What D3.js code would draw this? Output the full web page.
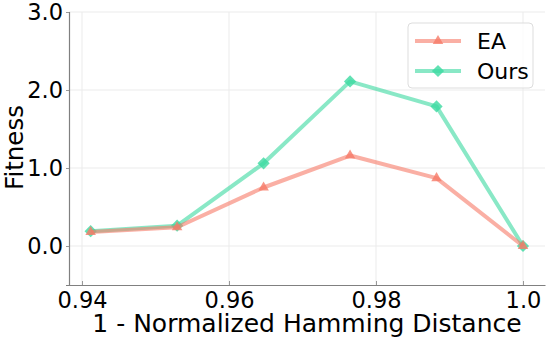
<!DOCTYPE html>
<html>
<head>
<meta charset="utf-8">
<script src="https://cdn.jsdelivr.net/npm/d3@7"></script>
<style>
  body { margin: 0; background: #fff; }
  text { font-family: "DejaVu Sans", sans-serif; fill: #000; }
</style>
</head>
<body>
<script>
const width = 548;
const height = 341;

// data
const xValues = [80 / 85, 81 / 85, 82 / 85, 83 / 85, 84 / 85, 1.0];
const eaValues = [0.18, 0.24, 0.75, 1.16, 0.87, 0.0];
const oursValues = [0.19, 0.26, 1.06, 2.11, 1.79, 0.0];
const xTicks = [0.94, 0.96, 0.98, 1.0];
const yTicks = [0, 1, 2, 3];
const seriesNames = ["EA", "Ours"];

const series = [
  { name: seriesNames[0], values: eaValues, color: "#f67a68", symbol: d3.symbolTriangle, size: 48, rot: 0 },
  { name: seriesNames[1], values: oursValues, color: "#3bd9a0", symbol: d3.symbolSquare, size: 75, rot: 45 }
];

const svg = d3.select("body").append("svg")
  .attr("width", width)
  .attr("height", height);

const margin = { left: 69, right: 3, top: 12, bottom: 56 };

const x = d3.scaleLinear()
  .domain([0.94 - 13 / 7350, 1.0 + 22 / 7350])
  .range([margin.left, width - margin.right]);

const y = d3.scaleLinear()
  .domain([-0.5, 3.0])
  .range([height - margin.bottom, margin.top]);

// grid
const grid = svg.append("g");
grid.selectAll(".gx")
  .data(xTicks)
  .join("line")
  .attr("x1", (d) => x(d)).attr("x2", (d) => x(d))
  .attr("y1", y.range()[0]).attr("y2", y.range()[1])
  .attr("stroke", "#ebebeb").attr("stroke-width", 1);
grid.selectAll(".gy")
  .data(yTicks)
  .join("line")
  .attr("y1", (d) => y(d)).attr("y2", (d) => y(d))
  .attr("x1", x.range()[0]).attr("x2", x.range()[1])
  .attr("stroke", "#ebebeb").attr("stroke-width", 1);

// axes
const xAxis = svg.append("g")
  .attr("transform", `translate(0,${height - margin.bottom})`)
  .call(d3.axisBottom(x).tickValues(xTicks).tickSize(0).tickPadding(7)
    .tickFormat((d) => (d === 1 ? "1.0" : d3.format(".2f")(d))));
const yAxis = svg.append("g")
  .attr("transform", `translate(${margin.left},0)`)
  .call(d3.axisLeft(y).tickValues(yTicks).tickSize(3).tickPadding(3)
    .tickFormat(d3.format(".1f")));

// tiny inward ticks on x
xAxis.selectAll(".tick line").attr("y2", -4).attr("stroke", "#999");
yAxis.selectAll(".tick line").attr("stroke", "#999");

[xAxis, yAxis].forEach((a) => {
  a.select(".domain").attr("stroke", "#808080").attr("stroke-width", 1.2);
  a.selectAll("text").attr("font-size", 22.5).attr("font-family", "DejaVu Sans");
});

// axis titles
svg.append("text")
  .attr("x", (x.range()[0] + x.range()[1]) / 2)
  .attr("y", 332)
  .attr("text-anchor", "middle")
  .attr("font-size", 25)
  .text("1 - Normalized Hamming Distance");

svg.append("text")
  .attr("transform", `translate(23,${(y.range()[0] + y.range()[1]) / 2 - 1}) rotate(-90)`)
  .attr("text-anchor", "middle")
  .attr("font-size", 24.5)
  .text("Fitness");

// lines + markers
const line = d3.line()
  .x((d, i) => x(xValues[i]))
  .y((d) => y(d));

series.slice().reverse().forEach((s) => {
  svg.append("path")
    .datum(s.values)
    .attr("d", line)
    .attr("fill", "none")
    .attr("stroke", s.color)
    .attr("stroke-opacity", 0.6)
    .attr("stroke-width", 4)
    .attr("stroke-linejoin", "round");

  svg.append("g")
    .selectAll("path")
    .data(s.values)
    .join("path")
    .attr("transform", (d, i) => `translate(${x(xValues[i])},${y(d)}) rotate(${s.rot})`)
    .attr("d", d3.symbol().type(s.symbol).size(s.size)())
    .attr("fill", s.color)
    .attr("fill-opacity", 0.8);
});

// legend
const legend = svg.append("g").attr("transform", "translate(408,23)");
legend.append("rect")
  .attr("width", 125)
  .attr("height", 65)
  .attr("rx", 4)
  .attr("fill", "#fff")
  .attr("fill-opacity", 0.8)
  .attr("stroke", "#dddddd");

const items = legend.selectAll("g")
  .data(series)
  .join("g")
  .attr("transform", (d, i) => `translate(0,${18 + i * 30})`);
items.append("line")
  .attr("x1", 7).attr("x2", 53)
  .attr("stroke", (d) => d.color)
  .attr("stroke-opacity", 0.6)
  .attr("stroke-width", 4);
items.append("path")
  .attr("transform", (d) => `translate(30,0) rotate(${d.rot})`)
  .attr("d", (d) => d3.symbol().type(d.symbol).size(d.size)())
  .attr("fill", (d) => d.color)
  .attr("fill-opacity", 0.8);
items.append("text")
  .attr("x", 69)
  .attr("y", 8)
  .attr("font-size", 22)
  .text((d) => d.name);
</script>
</body>
</html>
